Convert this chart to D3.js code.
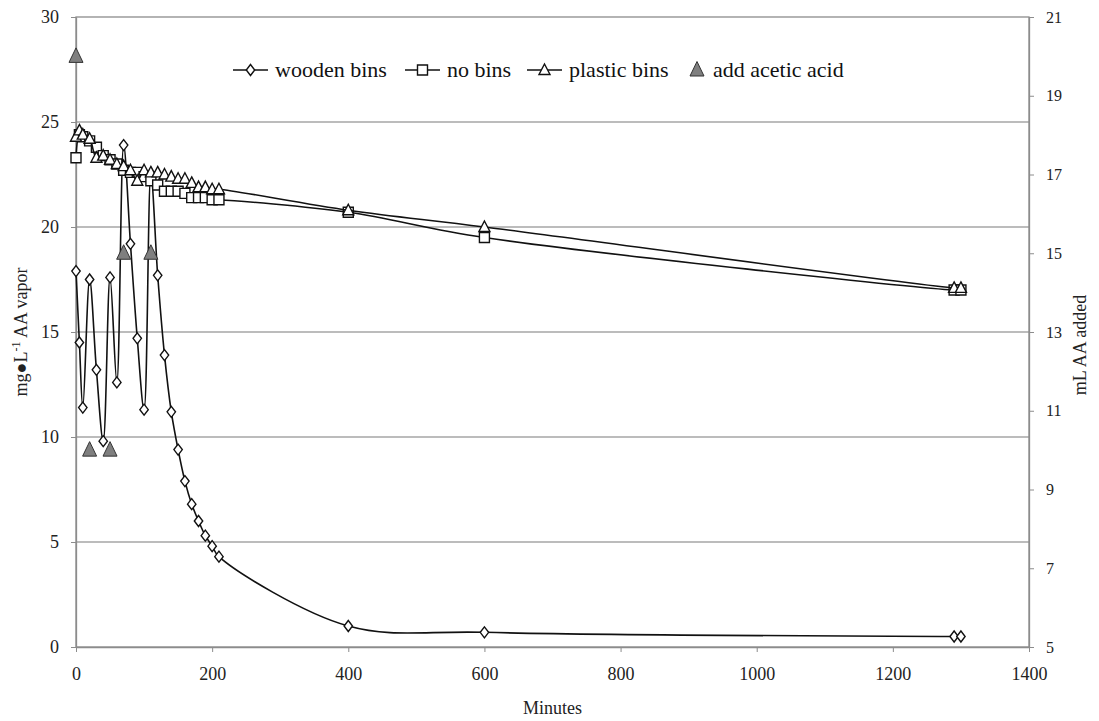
<!DOCTYPE html>
<html>
<head>
<meta charset="utf-8">
<script src="https://cdn.jsdelivr.net/npm/d3@7/dist/d3.min.js"></script>
<style>
  body { margin: 0; background: #fff; }
  svg { display: block; }
  svg text { font-family: "Liberation Serif", "DejaVu Serif", serif; }
</style>
</head>
<body>
<svg id="chart" width="1099" height="721"></svg>
<script>
// sampling times (minutes)
var minutes = [0, 5, 10, 20, 30, 40, 50, 60, 70, 80, 90, 100, 110, 120, 130, 140, 150, 160, 170, 180, 190, 200, 210, 400, 600, 1290, 1300];

// mg/L AA vapor
var woodenBins = [17.9, 14.5, 11.4, 17.5, 13.2, 9.8, 17.6, 12.6, 23.9, 19.2, 14.7, 11.3, 22.5, 17.7, 13.9, 11.2, 9.4, 7.9, 6.8, 6.0, 5.3, 4.8, 4.3, 1.0, 0.7, 0.5, 0.5];
var noBins = [23.3, 24.4, 24.3, 24.1, 23.8, 23.4, 23.2, 23.0, 22.7, 22.6, 22.6, 22.4, 22.2, 22.0, 21.7, 21.7, 21.7, 21.6, 21.4, 21.4, 21.4, 21.3, 21.3, 20.7, 19.5, 17.0, 17.0];
var plasticBins = [24.3, 24.6, 24.4, 24.2, 23.3, 23.4, 23.2, 23.0, 22.9, 22.7, 22.2, 22.7, 22.6, 22.6, 22.5, 22.4, 22.3, 22.3, 22.1, 21.9, 21.9, 21.8, 21.8, 20.8, 20.0, 17.1, 17.1];

// acetic acid additions (mL, right axis)
var acidMinutes = [0, 20, 50, 70, 110];
var acidAdded = [20, 10, 10, 15, 15];

var xTicks = [0, 200, 400, 600, 800, 1000, 1200, 1400];
var yTicks = [0, 5, 10, 15, 20, 25, 30];
var y2Ticks = [5, 7, 9, 11, 13, 15, 17, 19, 21];

var svg = d3.select("#chart");
var plotLeft = 76, plotRight = 1029, plotTop = 17, plotBottom = 647;

var x = d3.scaleLinear().domain([0, 1400]).range([plotLeft, plotRight]);
var y = d3.scaleLinear().domain([0, 30]).range([plotBottom, plotTop]);
var y2 = d3.scaleLinear().domain([5, 21]).range([plotBottom, plotTop]);

// gridlines
svg.append("g").selectAll("line").data(yTicks.filter(function (d) { return d > 0 && d < 30; }))
  .enter().append("line")
  .attr("x1", plotLeft).attr("x2", plotRight)
  .attr("y1", function (d) { return y(d); }).attr("y2", function (d) { return y(d); })
  .attr("stroke", "#a6a6a6").attr("stroke-width", 1.3);

// plot border
svg.append("rect").attr("x", plotLeft).attr("y", plotTop)
  .attr("width", plotRight - plotLeft).attr("height", plotBottom - plotTop)
  .attr("fill", "none").attr("stroke", "#8c8c8c").attr("stroke-width", 1.3);

function styleAxis(g) {
  g.attr("font-family", null);
  g.selectAll(".domain").attr("stroke", "#8c8c8c").attr("stroke-width", 1.3);
  g.selectAll(".tick line").attr("stroke", "#8c8c8c");
  g.selectAll("text").attr("fill", "#222");
}

svg.append("g").attr("transform", "translate(0," + plotBottom + ")")
  .call(d3.axisBottom(x).tickValues(xTicks).tickFormat(d3.format("d")).tickSize(5).tickPadding(15).tickSizeOuter(0))
  .call(styleAxis).attr("font-size", 18);

svg.append("g").attr("transform", "translate(" + plotLeft + ",0)")
  .call(d3.axisLeft(y).tickValues(yTicks).tickSize(5).tickPadding(12).tickSizeOuter(0))
  .call(styleAxis).attr("font-size", 18);

svg.append("g").attr("transform", "translate(" + plotRight + ",0)")
  .call(d3.axisRight(y2).tickValues(y2Ticks).tickSize(5).tickPadding(12).tickSizeOuter(0))
  .call(styleAxis).attr("font-size", 16);

// axis titles
svg.append("text").attr("x", (plotLeft + plotRight) / 2).attr("y", 714)
  .attr("text-anchor", "middle").attr("font-size", 18).attr("fill", "#222").text("Minutes");

var yl = svg.append("text").attr("transform", "translate(27,332) rotate(-90)")
  .attr("text-anchor", "middle").attr("font-size", 18).attr("fill", "#222");
yl.append("tspan").text("mg\u25CFL");
yl.append("tspan").attr("dy", -7).attr("font-size", 12).text("-1");
yl.append("tspan").attr("dy", 7).text(" AA vapor");

svg.append("text").attr("transform", "translate(1086,345) rotate(-90)")
  .attr("text-anchor", "middle").attr("font-size", 18).attr("fill", "#222").text("mL AA added");

// markers
var markers = {
  diamond: "M0,-5.5L4.2,0L0,5.5L-4.2,0Z",
  square: "M-5,-5H5V5H-5Z",
  triangle: "M0,-6L5.5,4.5L-5.5,4.5Z",
  bigTriangle: "M0,-8.5L7,6L-7,6Z"
};

var line = d3.line()
  .x(function (d) { return x(d[0]); })
  .y(function (d) { return y(d[1]); })
  .curve(d3.curveCatmullRom.alpha(0.5));

var series = [
  { name: "wooden bins", values: woodenBins, marker: "diamond" },
  { name: "no bins", values: noBins, marker: "square" },
  { name: "plastic bins", values: plasticBins, marker: "triangle" }
];

series.forEach(function (s) {
  var pts = minutes.map(function (m, i) { return [m, s.values[i]]; });
  var g = svg.append("g");
  g.append("path").datum(pts).attr("d", line)
    .attr("fill", "none").attr("stroke", "#111").attr("stroke-width", 1.6);
  g.selectAll("path.m").data(pts).enter().append("path").attr("class", "m")
    .attr("transform", function (d) { return "translate(" + x(d[0]) + "," + y(d[1]) + ")"; })
    .attr("d", markers[s.marker])
    .attr("fill", "#fff").attr("stroke", "#111").attr("stroke-width", 1.4);
});

var acid = acidMinutes.map(function (m, i) { return [m, acidAdded[i]]; });
svg.append("g").selectAll("path").data(acid).enter().append("path")
  .attr("transform", function (d) { return "translate(" + x(d[0]) + "," + y2(d[1]) + ")"; })
  .attr("d", markers.bigTriangle)
  .attr("fill", "#7f7f7f").attr("stroke", "#333").attr("stroke-width", 1);

// legend
var legend = [
  { name: "wooden bins", marker: "diamond", x: 233 },
  { name: "no bins", marker: "square", x: 405 },
  { name: "plastic bins", marker: "triangle", x: 527 }
];
var ly = 70;
legend.forEach(function (l) {
  var g = svg.append("g");
  g.append("line").attr("x1", l.x).attr("x2", l.x + 35).attr("y1", ly).attr("y2", ly)
    .attr("stroke", "#111").attr("stroke-width", 1.6);
  g.append("path").attr("transform", "translate(" + (l.x + 17.5) + "," + ly + ")")
    .attr("d", markers[l.marker]).attr("fill", "#fff").attr("stroke", "#111").attr("stroke-width", 1.4);
  g.append("text").attr("x", l.x + 42).attr("y", ly + 7).attr("font-size", 22).attr("fill", "#111").text(l.name);
});
svg.append("path").attr("transform", "translate(697," + ly + ")")
  .attr("d", markers.bigTriangle).attr("fill", "#7f7f7f").attr("stroke", "#333").attr("stroke-width", 1);
svg.append("text").attr("x", 713).attr("y", ly + 7).attr("font-size", 22).attr("fill", "#111").text("add acetic acid");
</script>
</body>
</html>
